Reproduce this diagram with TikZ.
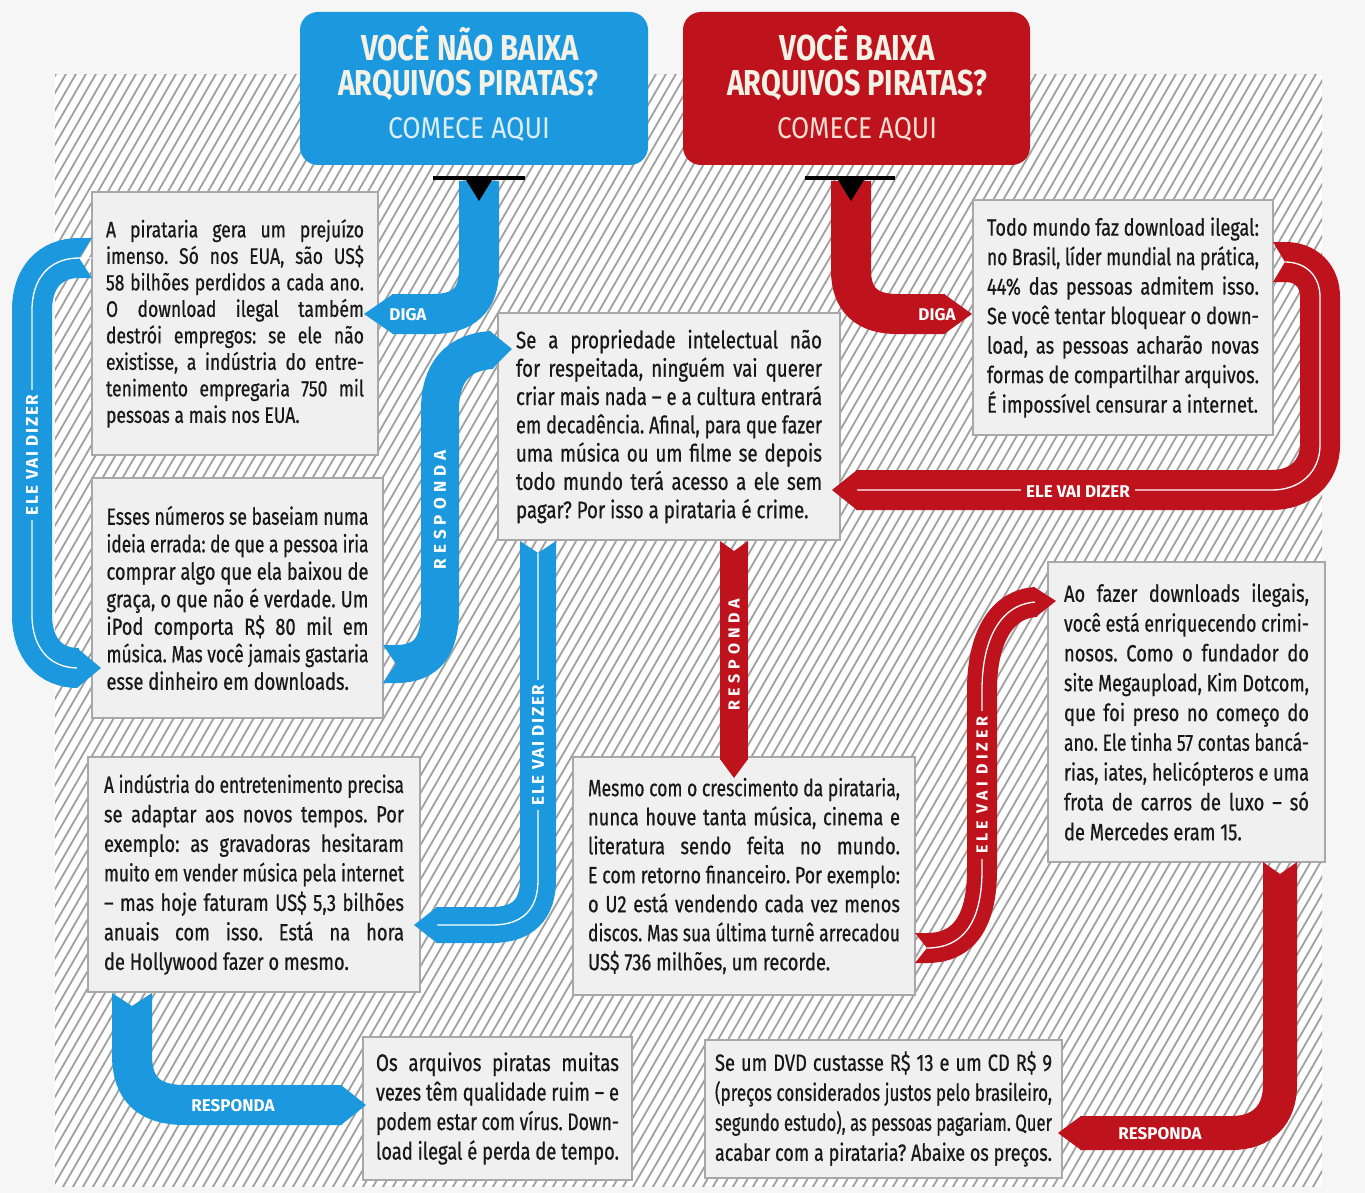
\documentclass[tikz,border=0pt]{standalone}
\usepackage{fontspec}
\usepackage{graphicx}
\setmainfont{Fira Sans}
\newfontfamily\bodyfont[FakeStretch=0.78,FakeBold=0.6]{Fira Sans}
\frenchspacing
\definecolor{pblue}{RGB}{28,152,222}
\definecolor{pred}{RGB}{190,18,28}
\definecolor{boxfill}{RGB}{240,240,240}
\definecolor{boxline}{RGB}{168,168,168}
\definecolor{hatchc}{RGB}{160,160,160}
\definecolor{bgc}{RGB}{246,246,246}
\definecolor{ink}{RGB}{24,24,24}
\definecolor{cream}{RGB}{244,242,230}
\definecolor{bluelite}{RGB}{222,238,248}
\definecolor{redlite}{RGB}{248,222,210}
\newsavebox\lnbox
\newcommand\jline[1]{\sbox\lnbox{\spaceskip=0pt\xspaceskip=0pt #1}%
  \ifdim\wd\lnbox>\lw\relax
    \pgfmathsetmacro\myscl{\lw/\the\wd\lnbox}%
    \scalebox{\myscl}[1]{\usebox\lnbox}%
  \else
    \makebox[\lw][s]{\spaceskip=0pt\xspaceskip=0pt #1}%
  \fi}
\newcommand\lastln[1]{\sbox\lnbox{\spaceskip=0pt\xspaceskip=0pt #1}%
  \ifdim\wd\lnbox>\lw\relax
    \pgfmathsetmacro\myscl{\lw/\the\wd\lnbox}%
    \scalebox{\myscl}[1]{\usebox\lnbox}%
  \else
    \usebox\lnbox
  \fi}
\newcommand\fitw[2]{\sbox\lnbox{#2}%
  \pgfmathsetmacro\myscl{#1/\the\wd\lnbox}%
  \scalebox{\myscl}[1]{\usebox\lnbox}}
\newcommand\tipat[5]{\fill[#5, shift={#1}, rotate=#2] (-1,-#3/2) -- (#4,0) -- (-1,#3/2) -- cycle;}
\newcommand\notchat[5]{\fill[#5, shift={#1}, rotate=#2] (0,-#3/2) -- (#4,0) -- (0,#3/2) -- (#4+1,#3/2) -- (#4+1,-#3/2) -- cycle;}
\begin{document}
\begin{tikzpicture}[x=1pt,y=-1pt,
  box/.style={rectangle, draw=boxline, fill=boxfill, line width=2pt, inner sep=0pt, text=ink, align=left},
  tbox/.style={rectangle, rounded corners=18pt, inner sep=0pt},
  lab/.style={text=white, font=\fontsize{17}{17}\selectfont\bfseries, inner sep=5pt},
  wline/.style={white, line width=1.3pt}]
\useasboundingbox (0,0) rectangle (1365,1193);
\fill[bgc] (0,0) rectangle (1365,1193);
\fill[white] (55,75) rectangle (1322,1186);
\begin{scope}
\clip (55,75) rectangle (1322,1186);
\foreach \i in {0,...,193} { \draw[hatchc, line width=1.8pt] ({-600+10*\i},1192) -- ++(654,-1132); }
\end{scope}

% title boxes
\node[tbox, fill=pblue, minimum width=348pt, minimum height=153pt] (tblue) at (474,88.5) {};
\node[anchor=base, text=cream, font=\fontsize{36}{36}\selectfont\bfseries] (tb1) at (470,61) {\fitw{218pt}{VOCÊ NÃO BAIXA}};
\node[anchor=base, text=cream, font=\fontsize{36}{36}\selectfont\bfseries] (tb2) at (468,96) {\fitw{260pt}{ARQUIVOS PIRATAS?}};
\node[anchor=base, text=bluelite, font=\fontsize{30}{30}\selectfont] (tb3) at (469,139) {\fitw{162pt}{COMECE AQUI}};
\node[tbox, fill=pred, minimum width=347pt, minimum height=153pt] (tred) at (856.5,88.5) {};
\node[anchor=base, text=cream, font=\fontsize{36}{36}\selectfont\bfseries] (tr1) at (857,61) {\fitw{155pt}{VOCÊ BAIXA}};
\node[anchor=base, text=cream, font=\fontsize{36}{36}\selectfont\bfseries] (tr2) at (857,96) {\fitw{260pt}{ARQUIVOS PIRATAS?}};
\node[anchor=base, text=redlite, font=\fontsize{30}{30}\selectfont] (tr3) at (857,139) {\fitw{160pt}{COMECE AQUI}};

% text boxes
\node[box, minimum width=286pt, minimum height=263pt, text width=258pt, font=\bodyfont\fontsize{22.5}{26.5}\selectfont] (b1) at (235,323.5) {\def\lw{258pt}%
\jline{A pirataria gera um prejuízo}\\
\jline{imenso. Só nos EUA, são US\$}\\
\jline{58 bilhões perdidos a cada ano.}\\
\jline{O download ilegal também}\\
\jline{destrói empregos: se ele não}\\
\jline{existisse, a indústria do entre-}\\
\jline{tenimento empregaria 750 mil}\\
\lastln{pessoas a mais nos EUA.}};

\node[box, minimum width=291pt, minimum height=240pt, text width=262pt, font=\bodyfont\fontsize{23.5}{27.5}\selectfont] (b2) at (237.5,598) {\def\lw{262pt}%
\jline{Esses números se baseiam numa}\\
\jline{ideia errada: de que a pessoa iria}\\
\jline{comprar algo que ela baixou de}\\
\jline{graça, o que não é verdade. Um}\\
\jline{iPod comporta R\$ 80 mil em}\\
\jline{música. Mas você jamais gastaria}\\
\lastln{esse dinheiro em downloads.}};

\node[box, minimum width=342pt, minimum height=227pt, text width=306pt, font=\bodyfont\fontsize{24}{28.3}\selectfont] (b3) at (669,426.5) {\def\lw{306pt}%
\jline{Se a propriedade intelectual não}\\
\jline{for respeitada, ninguém vai querer}\\
\jline{criar mais nada – e a cultura entrará}\\
\jline{em decadência. Afinal, para que fazer}\\
\jline{uma música ou um filme se depois}\\
\jline{todo mundo terá acesso a ele sem}\\
\lastln{pagar? Por isso a pirataria é crime.}};

\node[box, minimum width=300pt, minimum height=235pt, text width=272pt, font=\bodyfont\fontsize{23.5}{29.5}\selectfont] (b4) at (1123,317.5) {\def\lw{272pt}%
\jline{Todo mundo faz download ilegal:}\\
\jline{no Brasil, líder mundial na prática,}\\
\jline{44\% das pessoas admitem isso.}\\
\jline{Se você tentar bloquear o down-}\\
\jline{load, as pessoas acharão novas}\\
\jline{formas de compartilhar arquivos.}\\
\lastln{É impossível censurar a internet.}};

\node[box, minimum width=332pt, minimum height=235pt, text width=300pt, font=\bodyfont\fontsize{23.5}{29.5}\selectfont] (b5) at (254,874.5) {\def\lw{300pt}%
\jline{A indústria do entretenimento precisa}\\
\jline{se adaptar aos novos tempos. Por}\\
\jline{exemplo: as gravadoras hesitaram}\\
\jline{muito em vender música pela internet}\\
\jline{– mas hoje faturam US\$ 5,3 bilhões}\\
\jline{anuais com isso. Está na hora}\\
\lastln{de Hollywood fazer o mesmo.}};

\node[box, minimum width=342pt, minimum height=238pt, text width=312pt, font=\bodyfont\fontsize{23.5}{29}\selectfont] (b6) at (744,876) {\def\lw{312pt}%
\jline{Mesmo com o crescimento da pirataria,}\\
\jline{nunca houve tanta música, cinema e}\\
\jline{literatura sendo feita no mundo.}\\
\jline{E com retorno financeiro. Por exemplo:}\\
\jline{o U2 está vendendo cada vez menos}\\
\jline{discos. Mas sua última turnê arrecadou}\\
\lastln{US\$ 736 milhões, um recorde.}};

\node[box, minimum width=269pt, minimum height=143pt, text width=243pt, font=\bodyfont\fontsize{24}{29.5}\selectfont] (b7) at (497.5,1108.5) {\def\lw{243pt}%
\jline{Os arquivos piratas muitas}\\
\jline{vezes têm qualidade ruim – e}\\
\jline{podem estar com vírus. Down-}\\
\lastln{load ilegal é perda de tempo.}};

\node[box, minimum width=277pt, minimum height=300pt, text width=245pt, font=\bodyfont\fontsize{23.5}{29.8}\selectfont] (b8) at (1186.5,712) {\def\lw{245pt}%
\jline{Ao fazer downloads ilegais,}\\
\jline{você está enriquecendo crimi-}\\
\jline{nosos. Como o fundador do}\\
\jline{site Megaupload, Kim Dotcom,}\\
\jline{que foi preso no começo do}\\
\jline{ano. Ele tinha 57 contas bancá-}\\
\jline{rias, iates, helicópteros e uma}\\
\jline{frota de carros de luxo – só}\\
\lastln{de Mercedes eram 15.}};

\node[box, minimum width=357pt, minimum height=138pt, text width=337pt, font=\bodyfont\fontsize{23.5}{30}\selectfont] (b9) at (883.5,1109) {\def\lw{337pt}%
\jline{Se um DVD custasse R\$ 13 e um CD R\$ 9}\\
\jline{(preços considerados justos pelo brasileiro,}\\
\jline{segundo estudo), as pessoas pagariam. Quer}\\
\lastln{acabar com a pirataria? Abaixe os preços.}};

% ---- blue DIGA
\draw[pblue, line width=40pt] (479,181) -- (479,270) .. controls (479,300) and (463,314) .. (433,314) -- (392,314);
\tipat{(392,314)}{180}{40}{28}{pblue}
\node[lab] (ldb) at (408,315) {DIGA};
\draw[black, line width=4pt] (433,178) -- (525,178);
\fill[black] (466,180) -- (492,180) -- (479,201) -- cycle;

% ---- red DIGA
\draw[pred, line width=40pt] (851,181) -- (851,270) .. controls (851,300) and (867,314) .. (897,314) -- (945,314);
\tipat{(945,314)}{0}{40}{27}{pred}
\node[lab] (ldr) at (937,315) {DIGA};
\draw[black, line width=4pt] (805,178) -- (895,178);
\fill[black] (838,180) -- (864,180) -- (851,201) -- cycle;

% ---- blue ELE VAI DIZER (b1 -> b2)
\notchat{(92,258)}{180}{40}{13}{pblue}
\draw[pblue, line width=40pt] (79,258) .. controls (50,258) and (32,278) .. (32,310) -- (32,615) .. controls (32,648) and (50,668) .. (78,668);
\draw[wline] (92,258) -- (79,258) .. controls (50,258) and (32,278) .. (32,310) -- (32,615) .. controls (32,648) and (50,668) .. (78,668);
\tipat{(78,668)}{0}{40}{23}{pblue}
\node[lab, fill=pblue, rotate=90, font=\fontsize{17}{17}\selectfont\bfseries\addfontfeature{LetterSpace=10}] (le1) at (32,455) {ELE VAI DIZER};

% ---- blue RESPONDA (b2 -> b3)
\notchat{(383,664)}{0}{38}{13}{pblue}
\draw[pblue, line width=38pt] (396,664) .. controls (428,664) and (440,645) .. (440,610) -- (440,410) .. controls (440,372) and (458,352) .. (492,350);
\tipat{(492,350)}{3}{38}{20}{pblue}
\node[lab, rotate=90, font=\fontsize{17}{17}\selectfont\bfseries\addfontfeature{LetterSpace=30}] (lr1) at (440,510) {RESPONDA};

% ---- blue ELE VAI DIZER (b3 -> b5)
\notchat{(538,541)}{270}{36}{12}{pblue}
\draw[pblue, line width=36pt] (538,553) -- (538,880) .. controls (538,910) and (522,925) .. (492,925) -- (436,925);
\draw[wline] (538,553) -- (538,880) .. controls (538,910) and (522,925) .. (492,925) -- (436,925);
\tipat{(436,925)}{180}{36}{22}{pblue}
\node[lab, fill=pblue, rotate=90, font=\fontsize{17}{17}\selectfont\bfseries\addfontfeature{LetterSpace=10}] (le2) at (538,745) {ELE VAI DIZER};

% ---- blue RESPONDA (b5 -> b7)
\notchat{(132,993)}{270}{40}{13}{pblue}
\draw[pblue, line width=40pt] (132,1006) -- (132,1055) .. controls (132,1090) and (150,1105) .. (185,1105) -- (342,1105);
\tipat{(342,1105)}{0}{40}{24}{pblue}
\node[lab] (lr2) at (233,1106) {RESPONDA};

% ---- red ELE VAI DIZER (b4 -> b3)
\notchat{(1273,262)}{0}{40}{12}{pred}
\draw[pred, line width=40pt] (1285,262) .. controls (1306,262) and (1320,276) .. (1320,297) -- (1320,445) .. controls (1320,472) and (1300,490) .. (1272,490) -- (856,490);
\draw[wline] (1285,262) .. controls (1306,262) and (1320,276) .. (1320,297) -- (1320,445) .. controls (1320,472) and (1300,490) .. (1272,490) -- (856,490);
\tipat{(856,490)}{180}{40}{24}{pred}
\node[lab, fill=pred] (le3) at (1078,492) {ELE VAI DIZER};

% ---- red RESPONDA (b3 -> b6)
\notchat{(734,541)}{270}{28}{10}{pred}
\draw[pred, line width=28pt] (734,551) -- (734,760);
\tipat{(734,760)}{270}{28}{18}{pred}
\node[lab, rotate=90, font=\fontsize{16}{16}\selectfont\bfseries\addfontfeature{LetterSpace=30}] (lr3) at (734,655) {RESPONDA};

% ---- red ELE VAI DIZER (b6 -> b8)
\notchat{(915,948)}{0}{30}{12}{pred}
\draw[pred, line width=30pt] (927,948) .. controls (968,948) and (982,915) .. (982,870) -- (982,690) .. controls (982,640) and (1000,604) .. (1036,602);
\draw[wline] (927,948) .. controls (968,948) and (982,915) .. (982,870) -- (982,690) .. controls (982,640) and (1000,604) .. (1036,602);
\tipat{(1036,602)}{3}{30}{20}{pred}
\node[lab, fill=pred, rotate=90, font=\fontsize{16}{16}\selectfont\bfseries\addfontfeature{LetterSpace=25}] (le4) at (982,785) {ELE VAI DIZER};

% ---- red RESPONDA (b8 -> b9)
\notchat{(1280,862)}{270}{34}{12}{pred}
\draw[pred, line width=34pt] (1280,874) -- (1280,1085) .. controls (1280,1115) and (1262,1133) .. (1232,1133) -- (1080,1133);
\tipat{(1080,1133)}{180}{34}{22}{pred}
\node[lab] (lr4) at (1160,1134) {RESPONDA};
\end{tikzpicture}
\end{document}
